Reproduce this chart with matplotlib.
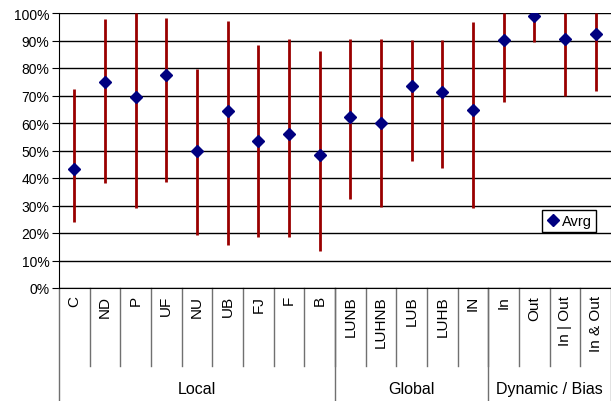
import numpy as np
import matplotlib.pyplot as plt
import matplotlib.transforms as mtransforms

plt.rcParams['font.family'] = ['Liberation Sans', 'DejaVu Sans']

categories = ['C', 'ND', 'P', 'UF', 'NU', 'UB', 'FJ', 'F', 'B',
              'LUNB', 'LUHNB', 'LUB', 'LUHB', 'IN',
              'In', 'Out', 'In | Out', 'In & Out']
groups = ['Local', 'Global', 'Dynamic / Bias']
group_sizes = [9, 5, 4]

avrg = [43.3, 74.9, 69.4, 77.5, 49.7, 64.4, 53.6, 55.9, 48.4,
        62.3, 59.9, 73.4, 71.1, 64.7,
        90.3, 98.8, 90.7, 92.5]
low = [23.9, 38.2, 29.0, 38.4, 19.4, 15.7, 18.7, 18.7, 13.4,
       32.4, 29.3, 46.2, 43.5, 29.0,
       67.6, 89.3, 69.8, 71.6]
high = [72.3, 97.9, 100, 98.2, 79.8, 97.0, 88.5, 90.6, 86.1,
        90.6, 90.6, 90.2, 90.2, 96.7,
        100, 100, 100, 100]

avrg = np.array(avrg)
low = np.array(low)
high = np.array(high)
x = np.arange(len(categories)) + 0.5

fig = plt.figure(figsize=(6.11, 4.02), dpi=100)
ax = fig.add_axes([59 / 611, 113 / 402, 552 / 611, 275 / 402])

ax.vlines(x, low, high, color='#990000', lw=2.0, zorder=3)
ax.plot(x, avrg, linestyle='none', marker='D', ms=6, color='#000080',
        label='Avrg', zorder=4)

ax.set_ylim(0, 100)
ax.set_xlim(0, len(categories))
ax.set_yticks(np.arange(0, 101, 10))
ax.set_yticklabels([f'{v}%' for v in range(0, 101, 10)], fontsize=10)
ax.yaxis.grid(True, color='black', lw=1)
ax.set_axisbelow(True)
ax.tick_params(axis='y', length=5, color='black', pad=2)
ax.set_xticks([])
for s in ['top', 'right']:
    ax.spines[s].set_visible(False)
ax.spines['left'].set_color('black')
ax.spines['bottom'].set_color('black')

# category table under the axis
trans = mtransforms.blended_transform_factory(ax.transData, ax.transAxes)
px = 1 / 275
for i in range(1, len(categories)):
    ax.plot([i, i], [0, -78 * px], transform=trans, color='#707070', lw=1,
            clip_on=False)
for i, name in enumerate(categories):
    ax.text(i + 0.5, -7 * px, name, transform=trans, rotation=90,
            ha='center', va='top', fontsize=11)

edges = np.concatenate([[0], np.cumsum(group_sizes)])
for e in edges:
    ax.plot([e, e], [0, -113 * px], transform=trans, color='#707070', lw=1,
            clip_on=False)
for g, a, b in zip(groups, edges[:-1], edges[1:]):
    ax.text((a + b) / 2, -101 * px, g, transform=trans, ha='center',
            va='center', fontsize=11.5)

leg = ax.legend(loc='upper left', bbox_to_anchor=(476 / 552, 85 / 275),
                handletextpad=0.1, handlelength=1.0, borderpad=0.25,
                fancybox=False, framealpha=1, fontsize=10.5)
leg.get_frame().set_edgecolor('black')
leg.get_frame().set_linewidth(1)

fig.savefig('out.png', dpi=100)
